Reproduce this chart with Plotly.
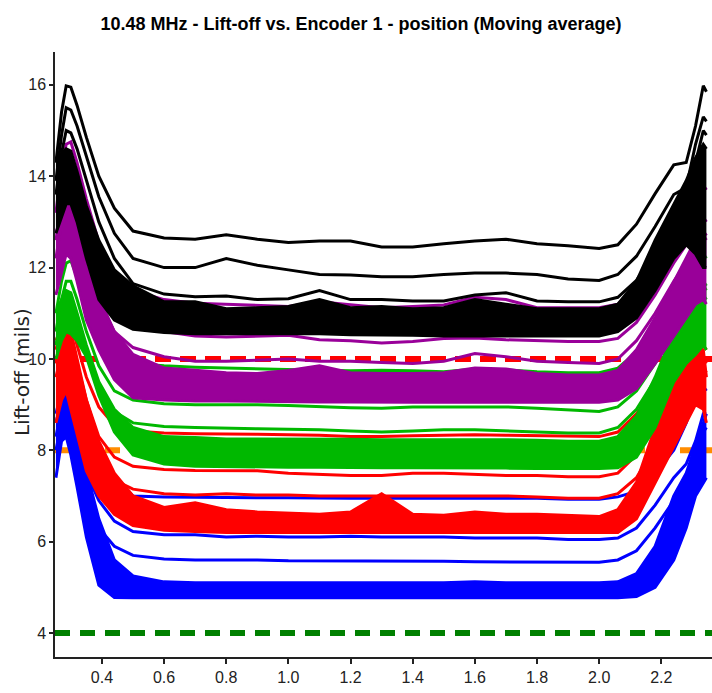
import plotly.graph_objects as go

TITLE = "10.48 MHz - Lift-off vs. Encoder 1 - position (Moving average)"
Y_LABEL = "Lift-off (mils)"

X = [0.252, 0.27, 0.285, 0.30, 0.32, 0.35, 0.39, 0.44, 0.50, 0.60, 0.70, 0.80, 0.90, 1.00, 1.10, 1.20,
     1.30, 1.40, 1.50, 1.60, 1.70, 1.80, 1.90, 2.00, 2.06, 2.12, 2.18, 2.24, 2.28, 2.31, 2.335, 2.345]

X_TICKS = [0.4, 0.6, 0.8, 1.0, 1.2, 1.4, 1.6, 1.8, 2.0, 2.2]
X_TICK_LABELS = ["0.4", "0.6", "0.8", "1.0", "1.2", "1.4", "1.6", "1.8", "2.0", "2.2"]
Y_TICKS = [4, 6, 8, 10, 12, 14, 16]
Y_TICK_LABELS = ["4", "6", "8", "10", "12", "14", "16"]

# threshold levels
LIMIT_GREEN = 4
LIMIT_ORANGE = 8
LIMIT_RED = 10

# ---- black group ----
K1 = [14.3, 15.4, 15.98, 15.95, 15.55, 14.85, 14.0, 13.3, 12.8, 12.65, 12.62, 12.72, 12.62, 12.55, 12.58, 12.58,
      12.45, 12.45, 12.52, 12.58, 12.62, 12.52, 12.48, 12.42, 12.5, 12.95, 13.62, 14.25, 14.3, 15.1, 15.98, 15.85]
K2 = [13.9, 14.9, 15.5, 15.45, 15.1, 14.45, 13.55, 12.75, 12.2, 12.0, 12.0, 12.2, 12.05, 11.95, 11.85, 11.84,
      11.8, 11.8, 11.85, 11.88, 11.88, 11.85, 11.75, 11.72, 11.85, 12.25, 12.9, 13.6, 13.75, 14.7, 15.3, 15.2]
K3 = [13.6, 14.5, 15.0, 14.95, 14.6, 13.9, 13.0, 12.2, 11.65, 11.42, 11.36, 11.38, 11.3, 11.32, 11.5, 11.3,
      11.3, 11.27, 11.27, 11.4, 11.45, 11.27, 11.25, 11.25, 11.35, 11.72, 12.35, 13.15, 13.45, 14.3, 15.0, 14.9]
BK_TOP = [14.3, 14.5, 14.6, 14.55, 14.1, 13.35, 12.6, 11.95, 11.6, 11.25, 11.25, 11.1, 11.12, 11.15, 11.3, 11.12,
          11.15, 11.1, 11.12, 11.3, 11.2, 11.1, 11.1, 11.1, 11.2, 11.7, 12.6, 13.4, 13.9, 14.4, 14.7, 14.6]
BK_BOT = [12.75, 13.1, 13.4, 13.4, 13.0, 12.2, 11.3, 10.85, 10.65, 10.58, 10.55, 10.55, 10.55, 10.55, 10.55, 10.53,
          10.53, 10.52, 10.5, 10.5, 10.5, 10.5, 10.5, 10.5, 10.6, 10.9, 11.5, 12.2, 12.5, 12.3, 12.0, 12.0]

# ---- purple group ----
P1 = [13.2, 14.2, 14.7, 14.75, 14.3, 13.5, 12.55, 11.9, 11.5, 11.3, 11.22, 11.2, 11.18, 11.15, 11.25, 11.18,
      11.12, 11.15, 11.18, 11.35, 11.3, 11.12, 11.12, 11.12, 11.2, 11.55, 12.2, 12.9, 13.2, 13.6, 13.8, 13.7]
P2 = [12.6, 13.4, 13.8, 13.8, 13.4, 12.7, 11.8, 11.1, 10.8, 10.6, 10.5, 10.48, 10.5, 10.52, 10.42, 10.4,
      10.35, 10.38, 10.45, 10.46, 10.42, 10.4, 10.38, 10.38, 10.45, 10.8, 11.4, 12.1, 12.5, 12.9, 13.1, 13.0]
P3 = [12.2, 13.0, 13.4, 13.35, 12.9, 12.2, 11.3, 10.6, 10.25, 10.05, 9.95, 9.95, 9.98, 10.0, 9.95, 9.95,
      9.92, 9.9, 9.95, 10.12, 10.05, 9.95, 9.92, 9.9, 10.0, 10.4, 11.0, 11.7, 12.1, 12.5, 12.7, 12.6]
PU_TOP = [12.75, 13.2, 13.5, 13.4, 12.9, 12.0, 11.35, 10.6, 10.1, 9.8, 9.75, 9.7, 9.68, 9.75, 9.85, 9.7,
          9.68, 9.68, 9.7, 9.8, 9.78, 9.68, 9.65, 9.65, 9.75, 10.2, 10.9, 11.7, 12.2, 12.6, 12.8, 12.7]
PU_BOT = [11.4, 11.9, 12.3, 12.2, 11.7, 10.85, 10.2, 9.55, 9.15, 9.1, 9.08, 9.08, 9.07, 9.06, 9.06, 9.06,
          9.05, 9.05, 9.05, 9.06, 9.05, 9.05, 9.05, 9.05, 9.1, 9.35, 9.9, 10.5, 10.9, 11.2, 11.3, 11.2]

# ---- green group ----
G1 = [11.0, 11.7, 12.1, 12.15, 11.8, 11.2, 10.5, 10.05, 9.9, 9.85, 9.82, 9.8, 9.78, 9.76, 9.75, 9.74,
      9.75, 9.74, 9.72, 9.78, 9.76, 9.72, 9.7, 9.7, 9.8, 10.15, 10.8, 11.5, 11.9, 12.2, 12.3, 12.2]
G2 = [10.6, 11.3, 11.7, 11.7, 11.3, 10.6, 9.85, 9.3, 9.1, 9.02, 9.0, 9.0, 9.0, 8.98, 8.95, 8.93,
      8.92, 8.95, 8.95, 8.95, 8.95, 8.92, 8.88, 8.85, 8.95, 9.3, 9.9, 10.6, 11.0, 11.4, 11.6, 11.5]
G3 = [10.3, 11.0, 11.4, 11.35, 10.9, 10.2, 9.4, 8.85, 8.6, 8.52, 8.5, 8.48, 8.47, 8.46, 8.45, 8.42,
      8.4, 8.42, 8.45, 8.45, 8.42, 8.4, 8.38, 8.38, 8.5, 8.9, 9.55, 10.3, 10.8, 11.2, 11.4, 11.3]
GR_TOP = [11.0, 11.3, 11.5, 11.45, 11.0, 10.3, 9.5, 8.9, 8.5, 8.3, 8.28, 8.25, 8.25, 8.25, 8.25, 8.24,
          8.23, 8.23, 8.23, 8.24, 8.23, 8.22, 8.2, 8.2, 8.3, 8.75, 9.6, 10.6, 11.0, 11.4, 11.7, 11.6]
GR_BOT = [10.0, 10.4, 10.6, 10.55, 10.4, 10.05, 9.2, 8.4, 7.9, 7.7, 7.65, 7.64, 7.64, 7.63, 7.63, 7.62,
          7.62, 7.62, 7.62, 7.62, 7.61, 7.6, 7.6, 7.6, 7.62, 7.85, 8.5, 9.5, 9.9, 10.1, 10.3, 10.2]

# ---- red group ----
R1 = [10.2, 10.7, 10.9, 10.8, 10.3, 9.6, 8.95, 8.55, 8.42, 8.38, 8.36, 8.36, 8.35, 8.34, 8.33, 8.3,
      8.3, 8.32, 8.33, 8.34, 8.33, 8.32, 8.3, 8.3, 8.4, 8.8, 9.4, 9.9, 10.2, 10.4, 10.3, 10.2]
R2 = [9.9, 10.4, 10.6, 10.45, 9.9, 9.1, 8.3, 7.85, 7.65, 7.58, 7.56, 7.56, 7.55, 7.5, 7.48, 7.45,
      7.45, 7.5, 7.5, 7.48, 7.45, 7.45, 7.42, 7.42, 7.5, 7.9, 8.6, 9.3, 9.7, 10.0, 10.0, 9.9]
R3 = [9.6, 10.1, 10.3, 10.1, 9.5, 8.7, 7.9, 7.35, 7.15, 7.05, 7.02, 7.05, 7.02, 7.02, 7.0, 7.0,
      7.0, 7.0, 7.0, 7.0, 7.0, 6.98, 6.95, 6.95, 7.05, 7.4, 8.1, 8.9, 9.4, 9.8, 9.8, 9.7]
RE_TOP = [10.4, 10.7, 10.8, 10.6, 10.0, 9.1, 8.2, 7.5, 7.0, 6.75, 6.85, 6.7, 6.65, 6.62, 6.6, 6.65,
          7.05, 6.6, 6.58, 6.65, 6.6, 6.6, 6.58, 6.55, 6.7, 7.3, 8.5, 9.5, 10.1, 10.3, 10.2, 9.6]
RE_BOT = [8.6, 9.1, 9.3, 8.9, 8.4, 7.55, 7.0, 6.6, 6.35, 6.25, 6.22, 6.2, 6.2, 6.2, 6.2, 6.2,
          6.2, 6.2, 6.2, 6.2, 6.2, 6.2, 6.2, 6.2, 6.2, 6.5, 7.3, 8.1, 8.6, 9.0, 8.9, 8.6]

# ---- blue group ----
B1 = [8.6, 9.1, 9.2, 9.0, 8.6, 8.1, 7.75, 7.4, 7.0, 6.98, 6.97, 6.97, 6.96, 6.96, 6.95, 6.95,
      6.95, 6.95, 6.95, 6.95, 6.95, 6.95, 6.93, 6.93, 6.98, 7.1, 7.5, 8.0, 8.6, 9.2, 9.4, 9.3]
B2 = [8.3, 8.9, 9.0, 8.7, 8.2, 7.5, 6.9, 6.45, 6.22, 6.15, 6.15, 6.1, 6.12, 6.1, 6.1, 6.12,
      6.1, 6.1, 6.1, 6.08, 6.08, 6.08, 6.05, 6.05, 6.08, 6.3, 6.8, 7.4, 7.7, 8.2, 8.8, 8.8]
B3 = [8.0, 8.6, 8.8, 8.4, 7.8, 7.0, 6.3, 5.9, 5.7, 5.62, 5.6, 5.6, 5.6, 5.58, 5.58, 5.58,
      5.57, 5.57, 5.57, 5.56, 5.56, 5.55, 5.55, 5.55, 5.6, 5.8, 6.3, 6.9, 7.3, 7.7, 8.4, 8.5]
BL_TOP = [8.8, 9.3, 9.2, 8.8, 8.2, 7.55, 6.5, 5.6, 5.25, 5.12, 5.1, 5.1, 5.1, 5.1, 5.1, 5.1,
          5.1, 5.1, 5.1, 5.12, 5.1, 5.1, 5.1, 5.1, 5.12, 5.3, 5.9, 7.0, 7.5, 8.1, 8.6, 8.8]
BL_BOT = [7.4, 8.2, 8.3, 7.9, 7.2, 6.1, 5.05, 4.78, 4.77, 4.77, 4.77, 4.77, 4.77, 4.77, 4.77, 4.77,
          4.77, 4.77, 4.77, 4.77, 4.77, 4.77, 4.77, 4.77, 4.77, 4.8, 5.0, 5.6, 6.3, 7.0, 7.3, 7.4]

GROUPS = [
    ("#0000FF", BL_BOT, BL_TOP, [B1, B2, B3]),
    ("#FF0000", RE_BOT, RE_TOP, [R1, R2, R3]),
    ("#00B800", GR_BOT, GR_TOP, [G1, G2, G3]),
    ("#990099", PU_BOT, PU_TOP, [P1, P2, P3]),
    ("#000000", BK_BOT, BK_TOP, [K1, K2, K3]),
]

fig = go.Figure()

for color, bot, top, lines in GROUPS:
    fig.add_trace(go.Scatter(x=X, y=bot, mode="lines", line=dict(color=color, width=3),
                             showlegend=False, hoverinfo="skip"))
    fig.add_trace(go.Scatter(x=X, y=top, mode="lines", line=dict(color=color, width=3),
                             fill="tonexty", fillcolor=color, showlegend=False, hoverinfo="skip"))
    for ln in lines:
        fig.add_trace(go.Scatter(x=X, y=ln, mode="lines", line=dict(color=color, width=3),
                                 showlegend=False, hoverinfo="skip"))

fig.add_hline(y=LIMIT_ORANGE, line=dict(color="#FF8C00", width=6, dash="15px,10px"), layer="below")
fig.add_hline(y=LIMIT_RED, line=dict(color="#FF0000", width=6, dash="16px,9px"), layer="below")
fig.add_hline(y=LIMIT_GREEN, line=dict(color="#008000", width=6, dash="15px,10px"), layer="above")

SANS = "Liberation Sans, Arial, sans-serif"

fig.update_layout(
    width=712, height=693,
    margin=dict(l=55, r=0, t=52, b=36),
    paper_bgcolor="white", plot_bgcolor="white",
    title=dict(text="<b>" + TITLE + "</b>", x=0.507, xref="container", xanchor="center",
               y=0.966, yref="container", yanchor="middle",
               font=dict(family=SANS, size=18, color="#000000")),
    xaxis=dict(range=[0.249, 2.363], tickvals=X_TICKS, ticktext=X_TICK_LABELS,
               ticks="outside", ticklen=5, tickwidth=1.5, tickcolor="#222",
               showline=True, linecolor="#222", linewidth=1.5, showgrid=False, zeroline=False,
               tickfont=dict(family=SANS, size=16, color="#222")),
    yaxis=dict(range=[3.475, 16.72], tickvals=Y_TICKS, ticktext=Y_TICK_LABELS,
               ticks="outside", ticklen=4, tickwidth=1.5, tickcolor="#222",
               showline=True, linecolor="#222", linewidth=1.5, showgrid=False, zeroline=False,
               tickfont=dict(family=SANS, size=16, color="#222")),
    annotations=[dict(text=Y_LABEL, xref="paper", yref="paper", x=-0.0502, y=0.471,
                      textangle=-90, showarrow=False, xanchor="center", yanchor="middle",
                      font=dict(family="DejaVu Sans", size=20, color="#222"))],
)

fig.write_html("out.html")
